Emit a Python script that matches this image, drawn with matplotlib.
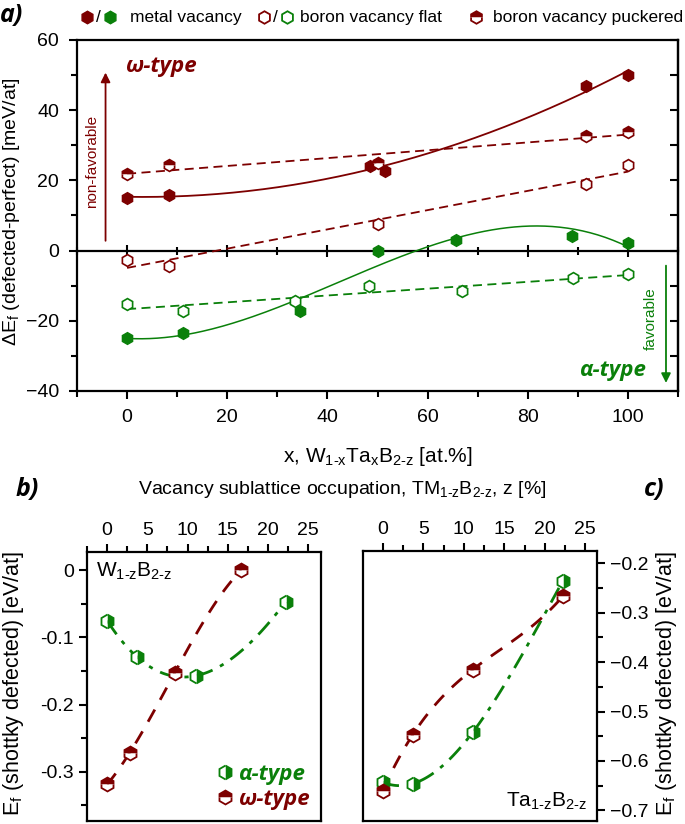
import matplotlib
matplotlib.use('Agg')
import matplotlib.pyplot as plt
import numpy as np
from matplotlib.ticker import MultipleLocator

plt.rcParams['font.family'] = ['Liberation Sans', 'DejaVu Sans']
plt.rcParams['mathtext.default'] = 'regular'
plt.rcParams['axes.linewidth'] = 1.6

RED = '#7d0000'
GREEN = '#0a800a'
BI = dict(family=['Open Sans', 'DejaVu Sans'], weight='bold', style='italic')
H = '\u2010'  # hyphen inside subscripts

# ---- panel a data: x (Ta content, at.%) and formation energy difference (meV/at)
x_om_metal = [0, 8.3, 48.5, 51.5, 91.7, 100]
om_metal = [15.0, 15.9, 24.0, 22.7, 47.0, 50.0]
x_om_puck = [0, 8.3, 50, 91.7, 100]
om_puck = [21.7, 24.3, 25.0, 32.5, 33.8]
x_om_flat = [0, 8.3, 50, 91.7, 100]
om_flat = [-2.6, -4.4, 7.5, 19.0, 24.4]
x_al_metal = [0, 11.1, 34.5, 50, 65.7, 88.9, 100]
al_metal = [-25.0, -23.4, -17.3, 0.0, 3.0, 4.1, 2.3]
x_al_flat = [0, 11.1, 33.5, 48.3, 66.8, 89.0, 100]
al_flat = [-15.1, -17.2, -14.5, -10.1, -11.6, -7.7, -6.7]

# ---- panel b (W1-zB2-z) and c (Ta1-zB2-z): z [%] vs Ef [eV/at]
zb_al = [0, 3.7, 11.1, 22.2]
b_al = [-0.075, -0.129, -0.157, -0.047]
zb_om = [0, 2.8, 8.4, 16.7]
b_om = [-0.319, -0.272, -0.153, 0.0]
zc = [0, 3.7, 11.1, 22.2]
c_al = [-0.643, -0.646, -0.542, -0.236]
c_om = [-0.660, -0.547, -0.415, -0.267]

fig = plt.figure(figsize=(6.85, 8.24), dpi=100)

# ================= panel a =================
ax = fig.add_axes([0.1124, 0.5255, 0.8774, 0.4260])
xs = np.linspace(0, 100, 200)

def fit(x, y, deg):
    return np.polyval(np.polyfit(x, y, deg), xs)

ax.plot(xs, fit(x_om_metal, om_metal, 2), color=RED, lw=1.3)
ax.plot(xs, fit(x_om_puck, om_puck, 1), color=RED, lw=1.3, dashes=(5, 3))
ax.plot(xs, fit(x_om_flat, om_flat, 1), color=RED, lw=1.3, dashes=(5, 3))
ax.plot(xs, fit(x_al_metal, al_metal, 3), color=GREEN, lw=1.1)
ax.plot(xs, fit(x_al_flat, al_flat, 1), color=GREEN, lw=1.3, dashes=(5, 3))

ms = 8.5
ax.plot(x_om_metal, om_metal, 'h', color=RED, ms=ms, ls='none')
ax.plot(x_om_puck, om_puck, 'h', color=RED, ms=ms, mfc=RED, mfcalt='white',
        fillstyle='top', mew=1.2, ls='none')
ax.plot(x_om_flat, om_flat, 'h', color=RED, ms=ms, mfc='white', mew=1.2, ls='none')
ax.plot(x_al_metal, al_metal, 'h', color=GREEN, ms=ms, ls='none')
ax.plot(x_al_flat, al_flat, 'h', color=GREEN, ms=ms, mfc='white', mew=1.2, ls='none')

ax.set_xlim(-10, 110)
ax.set_ylim(-40, 60)
ax.xaxis.set_major_locator(MultipleLocator(20))
ax.xaxis.set_minor_locator(MultipleLocator(10))
ax.yaxis.set_major_locator(MultipleLocator(20))
ax.yaxis.set_minor_locator(MultipleLocator(10))
ax.tick_params(axis='both', which='both', labelsize=14, width=1.5, direction='out')
ax.tick_params(which='major', length=6, pad=7)
ax.tick_params(which='minor', length=4)

# right spine: inward ticks every 10
ry = ax.secondary_yaxis('right')
ry.yaxis.set_major_locator(MultipleLocator(10))
ry.tick_params(direction='in', length=6, width=1.5, labelright=False)

# zero line with its own ticks
sec = ax.secondary_xaxis(0.4)
sec.xaxis.set_major_locator(MultipleLocator(20))
sec.xaxis.set_minor_locator(MultipleLocator(10))
sec.tick_params(which='major', direction='inout', length=8, width=1.5, labelbottom=False,
                labeltop=False)
sec.tick_params(which='minor', direction='inout', length=6, width=1.5)
sec.spines['bottom'].set_linewidth(1.6)
sec.spines['top'].set_linewidth(1.6)

ax.set_xlabel(f'x, W$_{{1{H}x}}$Ta$_x$B$_{{2{H}z}}$ [at.%]', fontsize=15, labelpad=14)
ax.set_ylabel('ΔE$_f$ (defected-perfect) [meV/at]', fontsize=14)
ax.yaxis.set_label_coords(-0.092, 0.51)

ax.text(-0.5, 52.5, 'ω-type', color=RED, fontsize=16, ha='left', va='center', **BI)
ax.text(103.5, -34.3, 'α-type', color=GREEN, fontsize=16, ha='right', va='center', **BI)
ax.annotate('', xy=(-4.3, 51.5), xytext=(-4.3, 2),
            arrowprops=dict(arrowstyle='-|>', color=RED, lw=1.3, mutation_scale=14))
ax.text(-7.0, 25.5, 'non-favorable', color=RED, fontsize=11, rotation=90,
        ha='center', va='center')
ax.annotate('', xy=(107.6, -38.5), xytext=(107.6, -3.5),
            arrowprops=dict(arrowstyle='-|>', color=GREEN, lw=1.3, mutation_scale=14))
ax.text(104.6, -19.4, 'favorable', color=GREEN, fontsize=11, rotation=90,
        ha='center', va='center')

# ================= panel b =================
zs_b1 = np.linspace(0, 22.2, 100)
zs_b2 = np.linspace(0, 16.7, 100)
axb = fig.add_axes([0.1270, 0.004, 0.3416, 0.326])
axb.plot(zs_b1, np.polyval(np.polyfit(zb_al, b_al, 3), zs_b1), color=GREEN, lw=2,
         dashes=(6, 3, 1.5, 3))
axb.plot(zs_b2, np.polyval(np.polyfit(zb_om, b_om, 3), zs_b2), color=RED, lw=2,
         dashes=(5, 4))
axb.plot(zb_al, b_al, 'h', color=GREEN, ms=10, mfc=GREEN, mfcalt='white',
         fillstyle='right', mew=1.3, ls='none', label='α-type')
axb.plot(zb_om, b_om, 'h', color=RED, ms=10, mfc=RED, mfcalt='white',
         fillstyle='top', mew=1.3, ls='none', label='ω-type')
axb.set_xlim(-2.5, 26.6)
axb.set_ylim(-0.373, 0.027)
axb.xaxis.set_major_locator(MultipleLocator(5))
axb.xaxis.set_minor_locator(MultipleLocator(2.5))
axb.yaxis.set_major_locator(MultipleLocator(0.1))
axb.yaxis.set_minor_locator(MultipleLocator(0.05))
axb.yaxis.set_major_formatter(plt.FuncFormatter(lambda v, p: '0' if abs(v) < 1e-9 else f'{v:.1f}'))
axb.tick_params(axis='x', which='both', top=True, bottom=False, labeltop=True,
                labelbottom=False, labelsize=14, width=1.5)
axb.tick_params(axis='y', which='both', labelsize=14, width=1.5)
axb.tick_params(which='major', length=6)
axb.tick_params(which='minor', length=4)
axb.set_ylabel('E$_f$ (shottky defected) [eV/at]', fontsize=15.5)
axb.yaxis.set_label_coords(-0.26, 0.51)
axb.text(0.04, 0.93, f'W$_{{1{H}z}}$B$_{{2{H}z}}$', transform=axb.transAxes, fontsize=15,
         ha='left', va='center')
axb.legend(loc='lower right', frameon=False, handletextpad=0.1, borderaxespad=0.1,
           labelspacing=0.15, handlelength=1.0, prop=dict(size=16, **BI),
           labelcolor=[GREEN, RED])

# ================= panel c =================
zs_c = np.linspace(0, 22.2, 100)
axc = fig.add_axes([0.5304, 0.004, 0.3407, 0.3273])
axc.plot(zs_c, np.polyval(np.polyfit(zc, c_al, 3), zs_c), color=GREEN, lw=2,
         dashes=(6, 3, 1.5, 3))
axc.plot(zs_c, np.polyval(np.polyfit(zc, c_om, 3), zs_c), color=RED, lw=2,
         dashes=(5, 4))
axc.plot(zc, c_al, 'h', color=GREEN, ms=10, mfc=GREEN, mfcalt='white',
         fillstyle='right', mew=1.3, ls='none')
axc.plot(zc, c_om, 'h', color=RED, ms=10, mfc=RED, mfcalt='white',
         fillstyle='top', mew=1.3, ls='none')
axc.set_xlim(-2.4, 26.4)
axc.set_ylim(-0.721, -0.175)
axc.xaxis.set_major_locator(MultipleLocator(5))
axc.xaxis.set_minor_locator(MultipleLocator(2.5))
axc.yaxis.set_major_locator(MultipleLocator(0.1))
axc.yaxis.set_minor_locator(MultipleLocator(0.05))
axc.tick_params(axis='x', which='both', top=True, bottom=False, labeltop=True,
                labelbottom=False, labelsize=14, width=1.5)
axc.tick_params(axis='y', which='both', left=False, labelleft=False, right=True,
                labelright=True, labelsize=14, width=1.5)
axc.tick_params(which='major', length=6)
axc.tick_params(which='minor', length=4)
axc.yaxis.set_label_position('right')
axc.set_ylabel('E$_f$ (shottky defected) [eV/at]', fontsize=15.5)
axc.yaxis.set_label_coords(1.245, 0.51)
axc.text(0.96, 0.07, f'Ta$_{{1{H}z}}$B$_{{2{H}z}}$', transform=axc.transAxes, fontsize=15,
         ha='right', va='center')

# ================= figure-level text / legend =================
fig.text(0.499, 1 - 490 / 824, f'Vacancy sublattice occupation, TM$_{{1{H}z}}$B$_{{2{H}z}}$, z [%]',
         fontsize=14, ha='center', va='center')
fig.text(0.0, 1 - 15 / 824, 'a)', fontsize=18, ha='left', va='center', **BI)
fig.text(0.022, 1 - 490 / 824, 'b)', fontsize=18, ha='left', va='center', **BI)
fig.text(0.940, 1 - 490 / 824, 'c)', fontsize=18, ha='left', va='center', **BI)

lg = fig.add_axes([0, 0, 1, 1], zorder=-1)
lg.set_xlim(0, 685)
lg.set_ylim(824, 0)
lg.axis('off')
ly = 17
lg.plot([87], [ly], 'h', color=RED, ms=9)
lg.plot([110], [ly], 'h', color=GREEN, ms=9)
lg.text(98.5, ly, '/', fontsize=12.5, ha='center', va='center')
lg.text(130, ly, 'metal vacancy', fontsize=12.5, ha='left', va='center')
lg.plot([264], [ly], 'h', color=RED, ms=9, mfc='white', mew=1.3)
lg.plot([287], [ly], 'h', color=GREEN, ms=9, mfc='white', mew=1.3)
lg.text(275.5, ly, '/', fontsize=12.5, ha='center', va='center')
lg.text(300, ly, 'boron vacancy flat', fontsize=12.5, ha='left', va='center')
lg.plot([476], [ly], 'h', color=RED, ms=9, mfc=RED, mfcalt='white', fillstyle='top', mew=1.3)
lg.text(493, ly, 'boron vacancy puckered', fontsize=12.5, ha='left', va='center')

fig.savefig('out.png', dpi=100)
